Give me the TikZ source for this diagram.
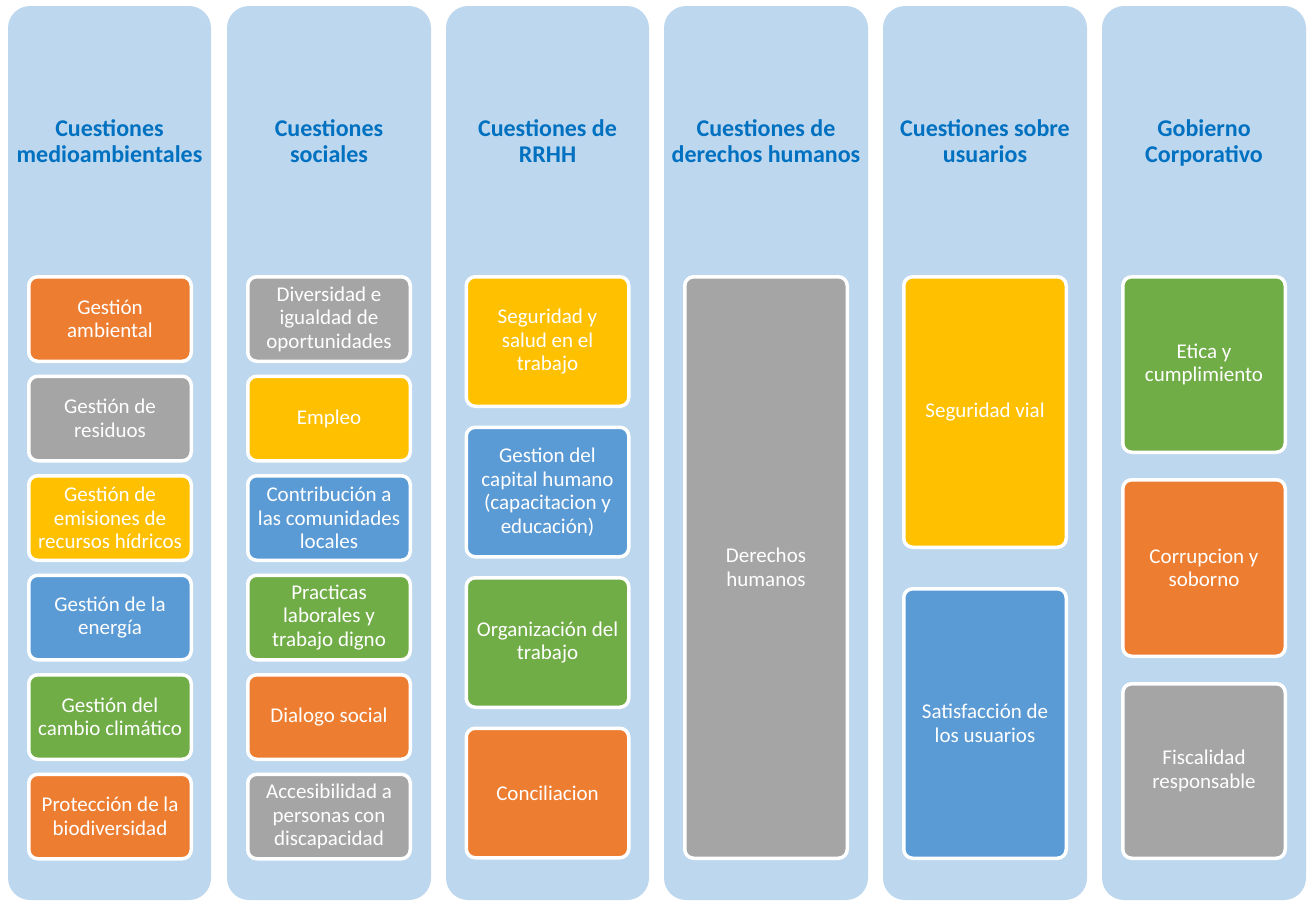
\documentclass[tikz,border=0pt]{standalone}
\usepackage{fontspec}
\setmainfont{Carlito}
\definecolor{colbg}{HTML}{BDD7EE}
\definecolor{ttl}{HTML}{0070C0}
\definecolor{cor}{HTML}{ED7D31}
\definecolor{cgr}{HTML}{A5A5A5}
\definecolor{cgo}{HTML}{FFC000}
\definecolor{cbl}{HTML}{5B9BD5}
\definecolor{cgn}{HTML}{70AD47}
\tikzset{
  colbox/.style={fill=colbg, rounded corners=22*0.75pt, draw=none},
  coltitle/.style={text=ttl, font=\fontsize{18pt}{19.5pt}\selectfont\bfseries, align=center},
  item/.style={draw=white, line width=3.5*0.75pt, rounded corners=9*0.75pt, text=white,
    font=\fontsize{15.75pt}{17.6pt}\selectfont, align=center, inner sep=0pt},
}
\begin{document}
\begin{tikzpicture}[x=0.75pt,y=-0.75pt]
\useasboundingbox (0,0) rectangle (1314,901);
% columns
\foreach \l/\r [count=\i] in {8/211,227/431,446/649,664/868,883/1087,1102/1306}{
  \path[colbox] (\l,6) rectangle (\r,900);
}
% titles
\node[coltitle] (t1) at (109.5,141) {Cuestiones\\medioambientales};
\node[coltitle] (t2) at (329,141) {Cuestiones\\sociales};
\node[coltitle] (t3) at (547.5,141) {Cuestiones de\\RRHH};
\node[coltitle] (t4) at (766,141) {Cuestiones de\\derechos humanos};
\node[coltitle] (t5) at (985,141) {Cuestiones sobre\\usuarios};
\node[coltitle] (t6) at (1204,143) {Gobierno\\Corporativo};
% helper: boxes defined by center x, top, bottom (outer)
\newcommand\mybox[6]{%
  \node[item, fill=#2, minimum width=162.5*0.75pt, minimum height={(#5-#4-3.5)*0.75pt}]
    (#1) at (#3,{(#4+#5)/2}) {#6};}
% column 1
\mybox{a1}{cor}{110}{275}{363}{Gestión\\ambiental}
\mybox{a2}{cgr}{110}{374.5}{462.5}{Gestión de\\residuos}
\mybox{a3}{cgo}{110}{474}{562}{Gestión de\\emisiones de\\recursos hídricos}
\mybox{a4}{cbl}{110}{573.5}{661.5}{Gestión de la\\energía}
\mybox{a5}{cgn}{110}{673}{761}{Gestión del\\cambio climático}
\mybox{a6}{cor}{110}{772.5}{860.5}{Protección de la\\biodiversidad}
% column 2
\mybox{b1}{cgr}{329}{275}{363}{Diversidad e\\igualdad de\\oportunidades}
\mybox{b2}{cgo}{329}{374.5}{462.5}{Empleo}
\mybox{b3}{cbl}{329}{474}{562}{Contribución a\\las comunidades\\locales}
\mybox{b4}{cgn}{329}{573.5}{661.5}{Practicas\\laborales y\\trabajo digno}
\mybox{b5}{cor}{329}{673}{761}{Dialogo social}
\mybox{b6}{cgr}{329}{772.5}{860.5}{Accesibilidad a\\personas con\\discapacidad}
% column 3
\mybox{c1}{cgo}{547.5}{275}{408}{Seguridad y\\salud en el\\trabajo}
\mybox{c2}{cbl}{547.5}{425.5}{558.5}{Gestion del\\capital humano\\(capacitacion y\\educación)}
\mybox{c3}{cgn}{547.5}{576}{709}{Organización del\\trabajo}
\mybox{c4}{cor}{547.5}{726.5}{859.5}{Conciliacion}
% column 4
\mybox{d1}{cgr}{766}{275}{860}{Derechos\\humanos}
% column 5
\mybox{e1}{cgo}{985}{275}{549}{Seguridad vial}
\mybox{e2}{cbl}{985}{587}{860}{Satisfacción de\\los usuarios}
% column 6
\mybox{f1}{cgn}{1204}{275}{454}{Etica y\\cumplimiento}
\mybox{f2}{cor}{1204}{478}{658}{Corrupcion y\\soborno}
\mybox{f3}{cgr}{1204}{682}{860}{Fiscalidad\\responsable}
\end{tikzpicture}
\end{document}
